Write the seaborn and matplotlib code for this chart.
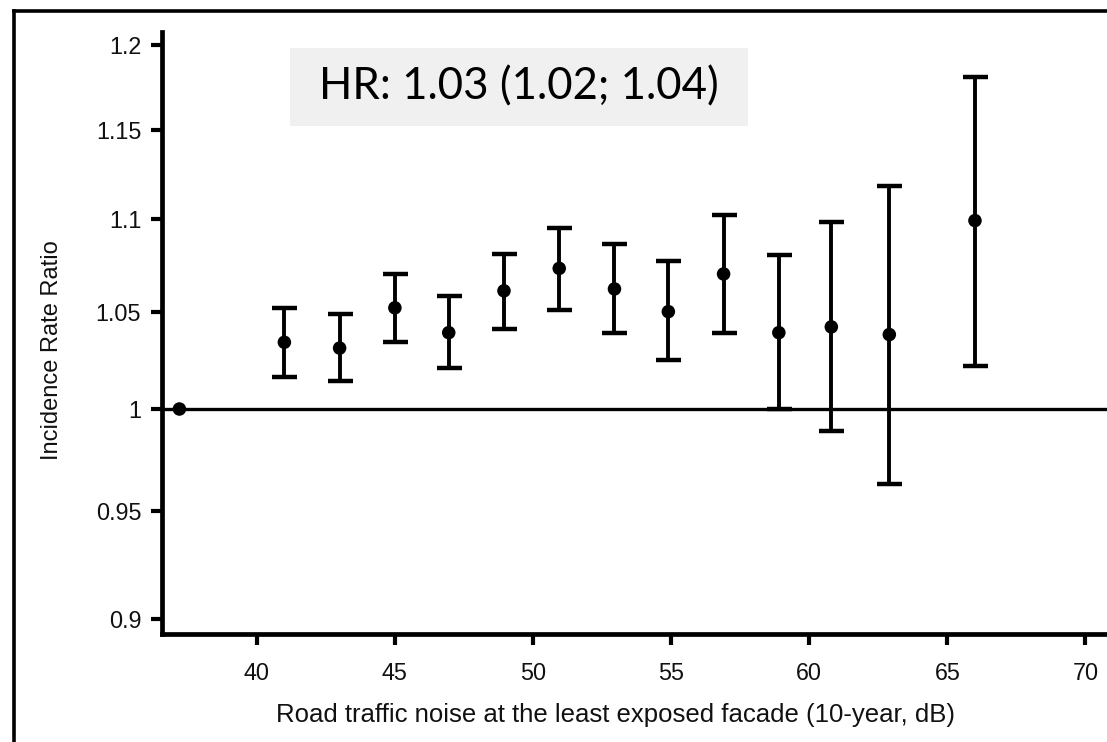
import numpy as np
import pandas as pd
import matplotlib
matplotlib.use("Agg")
import matplotlib.pyplot as plt
import seaborn as sns
from matplotlib.lines import Line2D
from matplotlib.patches import Rectangle
from matplotlib.ticker import FixedLocator, FixedFormatter, NullLocator

# ---- data ----
noise_db = [37.2, 41.0, 43.0, 45.0, 46.95, 48.95, 50.95, 52.95, 54.9, 56.9, 58.9, 60.8, 62.9, 66.0]
irr      = [1.000, 1.034, 1.031, 1.052, 1.039, 1.061, 1.073, 1.062, 1.050, 1.070, 1.039, 1.042, 1.038, 1.099]
ci_low   = [1.000, 1.016, 1.014, 1.034, 1.021, 1.041, 1.051, 1.039, 1.025, 1.039, 1.000, 0.989, 0.963, 1.022]
ci_high  = [1.000, 1.052, 1.049, 1.070, 1.058, 1.081, 1.095, 1.086, 1.077, 1.102, 1.080, 1.098, 1.118, 1.181]

x_ticks = [40, 45, 50, 55, 60, 65, 70]
y_ticks = [0.9, 0.95, 1.0, 1.05, 1.1, 1.15, 1.2]
y_tick_labels = ["0.9", "0.95", "1", "1.05", "1.1", "1.15", "1.2"]

x_label = "Road traffic noise at the least exposed facade (10-year, dB)"
y_label = "Incidence Rate Ratio"
hr_text = "HR: 1.03 (1.02; 1.04)"

df = pd.DataFrame({"noise": noise_db, "irr": irr, "lo": ci_low, "hi": ci_high})

sns.set_theme(style="ticks")
plt.rcParams["font.family"] = ["Liberation Sans", "DejaVu Sans"]

W, H = 1107, 742
fig = plt.figure(figsize=(W / 100, H / 100), dpi=100)
fig.patch.set_facecolor("white")

ax_left, ax_right, ax_top, ax_bottom = 162, 1107, 32, 634
ax = fig.add_axes([ax_left / W, (H - ax_bottom) / H, (ax_right - ax_left) / W, (ax_bottom - ax_top) / H])
ax.set_facecolor("white")

# reference line
ax.axhline(1.0, color="black", lw=2.4, zorder=1)

# error bars (skip reference category)
eb = df[df["hi"] > df["lo"]]
ax.errorbar(eb["noise"], eb["irr"],
            yerr=[eb["irr"] - eb["lo"], eb["hi"] - eb["irr"]],
            fmt="none", ecolor="black", elinewidth=2.8, capsize=9, capthick=3.2, zorder=2)

sns.scatterplot(data=df, x="noise", y="irr", color="black", s=95, edgecolor="none",
                zorder=3, ax=ax, legend=False)

ax.set_yscale("log")
ax.set_xlim(36.57, 70.78)
ax.set_ylim(0.8934, 1.2079)
ax.yaxis.set_major_locator(FixedLocator(y_ticks))
ax.yaxis.set_major_formatter(FixedFormatter(y_tick_labels))
ax.yaxis.set_minor_locator(NullLocator())
ax.set_xticks(x_ticks)
ax.set_xticklabels([str(t) for t in x_ticks])

for side in ["top", "right"]:
    ax.spines[side].set_visible(False)
for side in ["left", "bottom"]:
    ax.spines[side].set_linewidth(3.4)
    ax.spines[side].set_color("black")

ax.tick_params(axis="both", which="major", length=8, width=3.0, color="black",
               labelsize=16.8, labelcolor="#111111", direction="out")
ax.tick_params(axis="y", pad=7)
ax.tick_params(axis="x", pad=12)

ax.set_xlabel(x_label, fontsize=18.5, color="#111111", va="center", ha="center")
ax.set_ylabel(y_label, fontsize=17, color="#111111", va="center", ha="center")
ax.xaxis.set_label_coords((616 - ax_left) / (ax_right - ax_left), (ax_bottom - 715) / (ax_bottom - ax_top))
ax.yaxis.set_label_coords((52 - ax_left) / (ax_right - ax_left), (ax_bottom - 350) / (ax_bottom - ax_top))

# HR annotation box
bx0, bx1, by0, by1 = 290, 748, 48, 126
fig.add_artist(Rectangle((bx0 / W, 1 - by1 / H), (bx1 - bx0) / W, (by1 - by0) / H,
                         transform=fig.transFigure, facecolor="#f0f0f0", edgecolor="none", zorder=5))
fig.text((bx0 + bx1) / 2 / W, 1 - (by0 + by1) / 2 / H, hr_text, fontsize=31.5,
         family=["Lato", "DejaVu Sans"], ha="center", va="center", color="black", zorder=6)

# outer frame (left and top edges visible)
fig.add_artist(Line2D([14 / W, 14 / W], [0, 1 - 11 / H], transform=fig.transFigure,
                      color="black", lw=2.6, solid_capstyle="projecting"))
fig.add_artist(Line2D([14 / W, 1], [1 - 11 / H, 1 - 11 / H], transform=fig.transFigure,
                      color="black", lw=2.6, solid_capstyle="projecting"))

fig.savefig("out.png", dpi=100, facecolor="white")
